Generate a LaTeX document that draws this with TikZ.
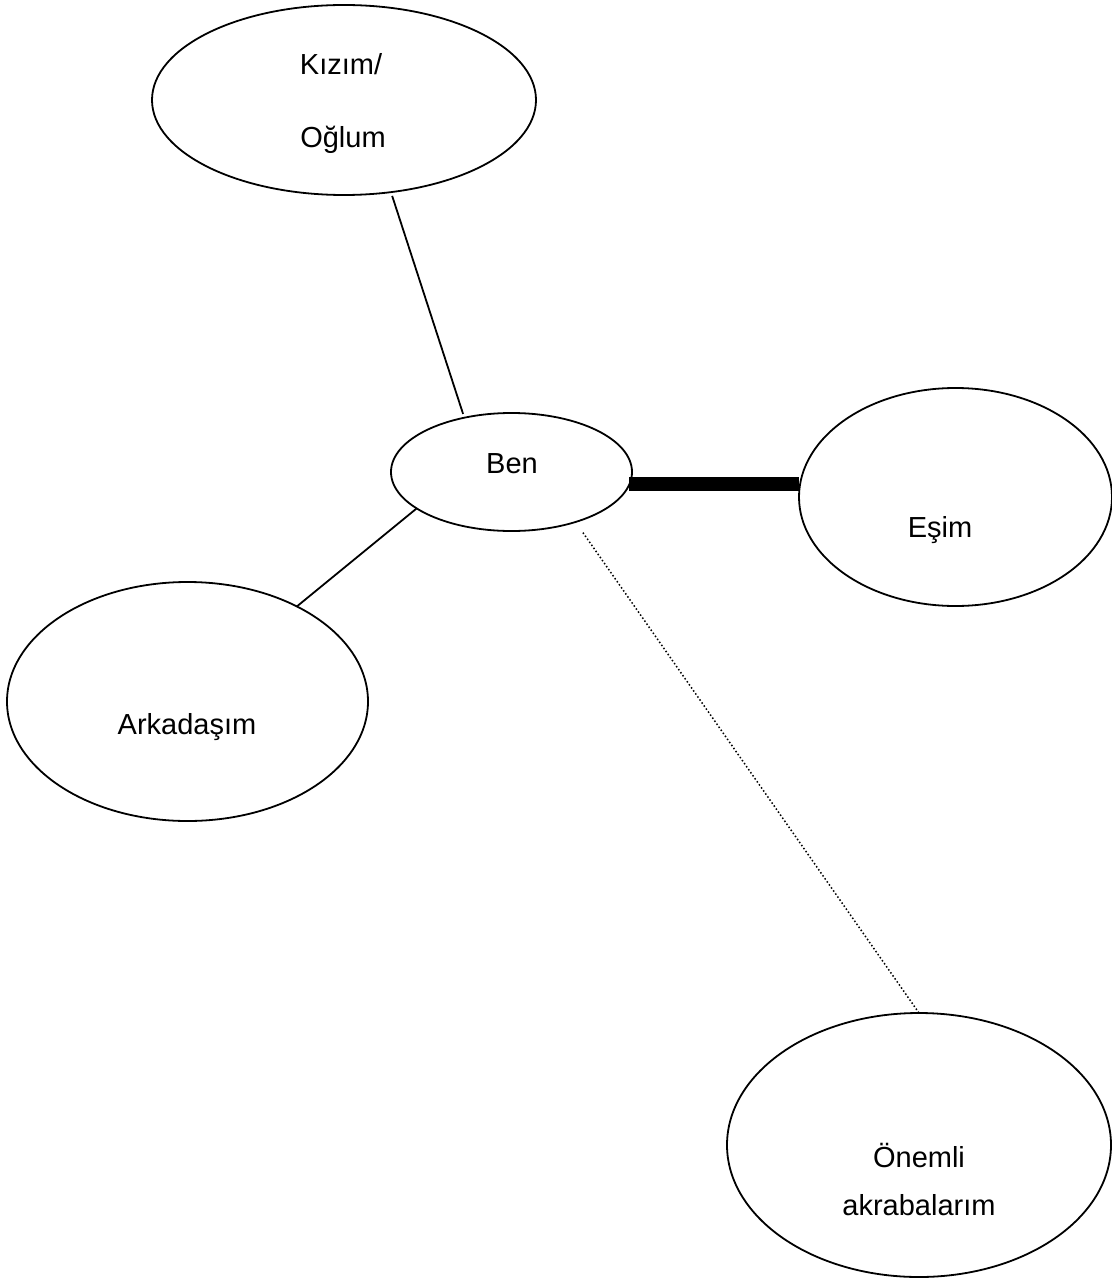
\documentclass[tikz,border=0pt]{standalone}
\usepackage{fontspec}
\setmainfont{Liberation Sans}
\usetikzlibrary{shapes.geometric}
\begin{document}
\begin{tikzpicture}[x=1pt,y=-1pt,
  bubble/.style={draw=black, line width=1.8pt, ellipse, inner sep=0pt, outer sep=0pt},
  lbl/.style={anchor=base, inner sep=0pt, font=\fontsize{29}{35}\selectfont},
  link/.style={draw=black, line width=1.8pt},
  strong/.style={draw=black, line width=14pt, line cap=butt},
  weak/.style={draw=black, line width=1.5pt, dash pattern=on 1.5pt off 2.2pt}]
\useasboundingbox (0,0) rectangle (1111,1281);
\fill[white] (0,0) rectangle (1111,1281);

\node[bubble, minimum width=384pt, minimum height=190pt] (kiz) at (344,100) {};
\node[bubble, minimum width=241pt, minimum height=118pt] (ben) at (511.5,472) {};
\node[bubble, minimum width=313pt, minimum height=218pt] (esim) at (955.5,497) {};
\node[bubble, minimum width=361pt, minimum height=239pt] (ark) at (187.5,701.5) {};
\node[bubble, minimum width=384pt, minimum height=264pt] (onem) at (919,1145) {};

\node[lbl] (t1) at (341,75) {Kızım/};
\node[lbl] (t2) at (343,148) {Oğlum};
\node[lbl] (t3) at (512,473) {Ben};
\node[lbl] (t4) at (940,537) {Eşim};
\node[lbl] (t5) at (187,734) {Arkadaşım};
\node[lbl] (t6) at (919,1167) {Önemli};
\node[lbl] (t7) at (919,1215) {akrabalarım};

\draw[link, shorten <=4pt, shorten >=4pt] (kiz.-63.3) -- (ben.131);
\draw[link] (ben.201.5) -- (ark.41.9);
\draw[strong] (ben.-6.7) -- (ben.-6.7 -| esim.west);
\draw[weak, shorten <=13pt] (ben.-38.1) -- (onem.90);
\end{tikzpicture}
\end{document}
